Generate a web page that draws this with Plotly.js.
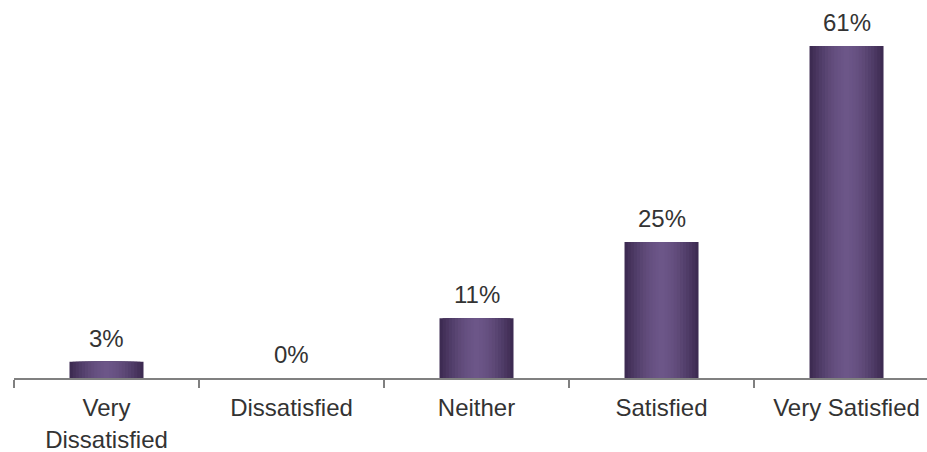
<!DOCTYPE html>
<html>
<head>
<meta charset="utf-8">
<script src="https://cdn.plot.ly/plotly-3.0.1.min.js"></script>
<style>html,body{margin:0;padding:0;background:#fff;}#chart{width:927px;height:452px;}</style>
</head>
<body>
<div id="chart"></div>
<script>
const categories = ["Very<br>Dissatisfied", "Dissatisfied", "Neither", "Satisfied", "Very Satisfied"];
const values = [3, 0, 11, 25, 61];
const valueLabels = ["3%", "0%", "11%", "25%", "61%"];

// Horizontal shading built by overlaying narrower, lighter bars of the same values
const edgeRGB = [58, 40, 78];
const centerRGB = [108, 86, 136];
const bands = 12;
const fullWidth = 0.4;
const traces = [];
for (let i = 0; i < bands; i++) {
  const d = 1 - (i + 0.5) / bands;
  const t = Math.pow(d, 1.6);
  const c = centerRGB.map((v, k) => Math.round(v + (edgeRGB[k] - v) * t));
  traces.push({
    type: "bar",
    x: categories,
    y: values,
    width: fullWidth * (1 - i / bands),
    marker: { color: `rgb(${c[0]},${c[1]},${c[2]})`, line: { width: 0 } },
    hoverinfo: "skip",
    showlegend: false
  });
}

const FONT = "Liberation Sans, Arial, sans-serif";
const annotations = categories.map((cat, i) => ({
  x: cat,
  y: values[i],
  xref: "x",
  yref: "y",
  text: valueLabels[i],
  showarrow: false,
  yanchor: "bottom",
  yshift: 8,
  font: { family: FONT, size: 24, color: "#333333" }
}));

const layout = {
  width: 927,
  height: 452,
  margin: { l: 14, r: 0, t: 0, b: 74 },
  paper_bgcolor: "#ffffff",
  plot_bgcolor: "#ffffff",
  barmode: "overlay",
  showlegend: false,
  xaxis: {
    type: "category",
    range: [-0.5, 4.435],
    showline: true,
    linecolor: "#808080",
    linewidth: 1.5,
    ticks: "outside",
    tickson: "boundaries",
    ticklen: 8,
    tickwidth: 1.5,
    tickcolor: "#808080",
    ticklabelstandoff: 8,
    showgrid: false,
    zeroline: false,
    tickfont: { family: FONT, size: 24, color: "#333333" },
    fixedrange: true
  },
  yaxis: {
    range: [0, 69.45],
    visible: false,
    showgrid: false,
    zeroline: false,
    fixedrange: true
  },
  annotations: annotations
};

Plotly.newPlot("chart", traces, layout, { displayModeBar: false, staticPlot: true });
</script>
</body>
</html>
